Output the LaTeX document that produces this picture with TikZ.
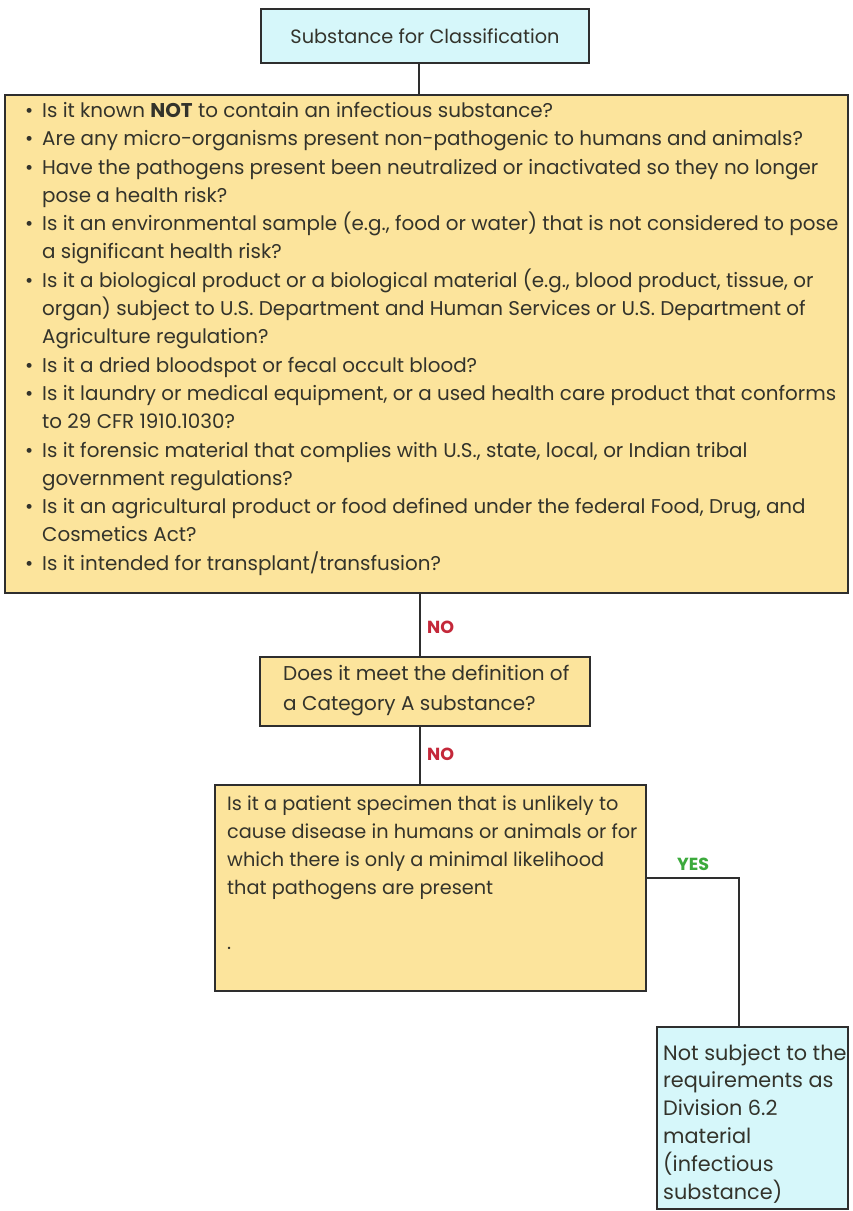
\documentclass[tikz,border=0pt]{standalone}
\usepackage{fontspec}
\setmainfont{Poppins}
\definecolor{boxcyan}{HTML}{D6F7FA}
\definecolor{boxyellow}{HTML}{FCE49C}
\definecolor{edge}{HTML}{2E2E2E}
\definecolor{ink}{HTML}{33332B}
\definecolor{noRed}{HTML}{C4283A}
\definecolor{yesGreen}{HTML}{3CAA3C}
\tikzset{
  panel/.style={draw=edge, line width=1.6pt, inner sep=0pt},
  cyanpanel/.style={panel, fill=boxcyan},
  yellowpanel/.style={panel, fill=boxyellow},
  words/.style={inner sep=0pt, align=left, text=ink, anchor=north west},
  link/.style={draw=edge, line width=1.4pt},
  answer/.style={font=\fontsize{17.5}{17.5}\selectfont\bfseries, inner sep=0pt, anchor=west},
}
\newcommand{\bul}{\makebox[17pt][l]{•}}
\newcommand{\cont}{\hspace*{17pt}}
\begin{document}
\begin{tikzpicture}[x=1pt, y=-1pt]
  \useasboundingbox (0,0) rectangle (853,1211);
  \fill[white] (0,0) rectangle (853,1211);

  % boxes
  \node[cyanpanel, minimum width=328pt, minimum height=54pt] (top) at (425,36) {};
  \node[yellowpanel, minimum width=843pt, minimum height=498pt] (big) at (426.5,344) {};
  \node[yellowpanel, minimum width=330pt, minimum height=69pt] (q2) at (425,691.5) {};
  \node[yellowpanel, minimum width=431pt, minimum height=206pt] (q3) at (430.5,888) {};
  \node[cyanpanel, minimum width=191pt, minimum height=182pt] (res) at (752.5,1118) {};

  % texts
  \node[inner sep=0pt, text=ink, font=\fontsize{19.3}{19.3}\selectfont] (toptext) at (top.center) {Substance for Classification};

  \node[words, font=\fontsize{19.9}{28.3}\selectfont] (bigtext) at (25,102) {%
    \bul Is it known \textbf{NOT} to contain an infectious substance?\\
    \bul Are any micro-organisms present non-pathogenic to humans and animals?\\
    \bul Have the pathogens present been neutralized or inactivated so they no longer\\
    \cont pose a health risk?\\
    \bul Is it an environmental sample (e.g., food or water) that is not considered to pose\\
    \cont a significant health risk?\\
    \bul Is it a biological product or a biological material (e.g., blood product, tissue, or\\
    \cont organ) subject to U.S. Department and Human Services or U.S. Department of\\
    \cont Agriculture regulation?\\
    \bul Is it a dried bloodspot or fecal occult blood?\\
    \bul Is it laundry or medical equipment, or a used health care product that conforms\\
    \cont to 29 CFR 1910.1030?\\
    \bul Is it forensic material that complies with U.S., state, local, or Indian tribal\\
    \cont government regulations?\\
    \bul Is it an agricultural product or food defined under the federal Food, Drug, and\\
    \cont Cosmetics Act?\\
    \bul Is it intended for transplant/transfusion?};

  \node[words, font=\fontsize{20}{30}\selectfont] (q2text) at (283,665) {%
    Does it meet the definition of\\
    a Category A substance?};

  \node[words, font=\fontsize{19.3}{27.7}\selectfont] (q3text) at (227,796) {%
    Is it a patient specimen that is unlikely to\\
    cause disease in humans or animals or for\\
    which there is only a minimal likelihood\\
    that pathogens are present\\[27.7pt]
    .};

  \node[words, font=\fontsize{20.8}{27.8}\selectfont] (restext) at (663,1044) {%
    Not subject to the\\
    requirements as\\
    Division 6.2\\
    material\\
    (infectious\\
    substance)};

  % connectors
  \coordinate (trunk) at (420,0);
  \coordinate (bend) at (739,878);
  \draw[link] ([xshift=-6pt]top.south) -- ([xshift=-6pt]top.south |- big.north);
  \draw[link] (big.south -| trunk) -- (q2.north -| trunk);
  \draw[link] (q2.south -| trunk) -- (q3.north -| trunk);
  \draw[link] (q3.east |- bend) -- (bend) -- (bend |- res.north);

  % answers
  \node[answer, text=noRed] (no1) at (427,627) {NO};
  \node[answer, text=noRed] (no2) at (427,754) {NO};
  \node[answer, text=yesGreen] (yes) at (677,864) {YES};
\end{tikzpicture}
\end{document}
